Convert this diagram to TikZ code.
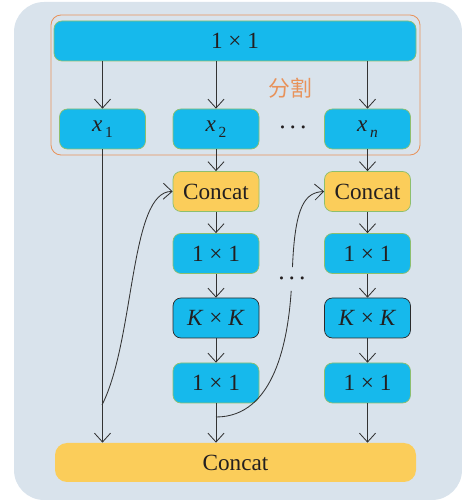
\documentclass[tikz,border=0pt]{standalone}
\usepackage{fontspec}
\setmainfont{Liberation Serif}
\newfontfamily\cjk{Noto Sans CJK SC}
\usepackage{tikz}
\usetikzlibrary{arrows.meta}

\definecolor{sfondo}{HTML}{D9E3EC}
\definecolor{azzurro}{HTML}{16B9EC}
\definecolor{giallo}{HTML}{FBCD5A}
\definecolor{bordoverde}{HTML}{8DBF6E}
\definecolor{bordoscuro}{HTML}{2B2B2B}
\definecolor{arancio}{HTML}{E8925A}
\definecolor{linea}{HTML}{333333}
\definecolor{testo}{HTML}{231F20}

% x con pedice basso e staccato
\newcommand{\xpedice}[1]{\textit{x}\kern2pt\raisebox{-0.6ex}{\fontsize{11}{13}\selectfont #1}}

\begin{document}
\begin{tikzpicture}[
                % Stile dei blocchi azzurri (convoluzioni)
                blocco/.style={
                    draw=bordoverde,
                    fill=azzurro,
                    rectangle,
                    rounded corners=0.2cm,
                    minimum width=2.15cm,
                    minimum height=1cm,
                    inner sep=0pt,
                    line width=0.5pt,
                    text=testo,
                    font=\fontsize{16.5}{19}\selectfont,
                    align=center
                },
                % Blocchi gialli di concatenazione
                bloccogiallo/.style={blocco, fill=giallo},
                % Blocchi K x K con bordo scuro
                bloccokk/.style={blocco, draw=bordoscuro},
                % Frecce con punta aperta
                freccia/.style={
                    -{Straight Barb[length=2.2mm, width=4mm]},
                    line width=0.6pt,
                    color=linea
                },
                puntini/.style={inner sep=0pt, minimum height=0.575cm, text=testo, font=\fontsize{13.5}{15}\selectfont\boldmath}
            ]

                \useasboundingbox (0,0) rectangle (11.55,12.55);
                % 0. Sfondo
                \fill[sfondo, rounded corners=0.75cm] (0.35,0.05) rectangle (11.55,12.5);

                % 1. Convoluzione iniziale e divisione in x_1 ... x_n
                \node [blocco, minimum width=9.05cm] (conv) at (5.875,11.525) {1 × 1};
                \node [blocco] (x1) at (2.5625,9.325) {\xpedice{1}};
                \node [blocco] (x2) at (5.4,9.325) {\xpedice{2}};
                \node [blocco] (xn) at (9.1875,9.325) {\xpedice{\textit{n}}};
                \node [puntini] (dots0) at (7.325,9.35) {$\cdots$};

                % Riquadro arancione della divisione
                \draw [arancio, line width=0.6pt, rounded corners=0.25cm] (1.275,8.675) rectangle (10.5,12.175);
                \node [text=arancio, font=\cjk\fontsize{15.5}{18}\selectfont] (divisione) at (7.25,10.35) {分割};

                % 2. Colonna del secondo ramo
                \node [bloccogiallo] (cat1) at (5.4,7.7625) {Concat};
                \node [blocco] (a1) at (5.4,6.2125) {1 × 1};
                \node [bloccokk] (k1) at (5.4,4.6) {\textit{K} × \textit{K}};
                \node [blocco] (b1) at (5.4,2.975) {1 × 1};

                % 3. Colonna dell'ultimo ramo
                \node [bloccogiallo] (cat2) at (9.1875,7.7625) {Concat};
                \node [blocco] (a2) at (9.1875,6.2125) {1 × 1};
                \node [bloccokk] (k2) at (9.1875,4.6) {\textit{K} × \textit{K}};
                \node [blocco] (b2) at (9.1875,2.975) {1 × 1};

                % 4. Concatenazione finale
                \node [bloccogiallo, draw=none, minimum width=9.025cm, minimum height=0.975cm, rounded corners=0.3cm] (uscita) at (5.8875,0.9875) {Concat};

                % Frecce verticali
                \foreach \n in {x1,x2,xn}
                    \draw [freccia] (\n |- conv.south) -- (\n);
                \foreach \a/\b in {x2/cat1, cat1/a1, a1/k1, k1/b1, xn/cat2, cat2/a2, a2/k2, k2/b2}
                    \draw [freccia] (\a) -- (\b);
                \foreach \n in {x1,b1,b2}
                    \draw [freccia] (\n) -- (\n |- uscita.north);

                % Collegamenti curvi verso i Concat
                \coordinate (j1) at (2.55,2.425);
                \coordinate (j2) at (5.4,2.125);
                \node [puntini] (dots1) at (7.3,5.575) {$\cdots$};
                \draw [freccia] (j1) .. controls +(0.825,1.625) and +(-1.075,0.025) .. (cat1.west);
                \draw [freccia] (j2) .. controls +(1.475,0) and +(-0.1,-1.5) .. (dots1)
                    .. controls +(0.075,1.85) and +(-0.475,-0.025) .. (cat2.west);

            \end{tikzpicture}
\end{document}
